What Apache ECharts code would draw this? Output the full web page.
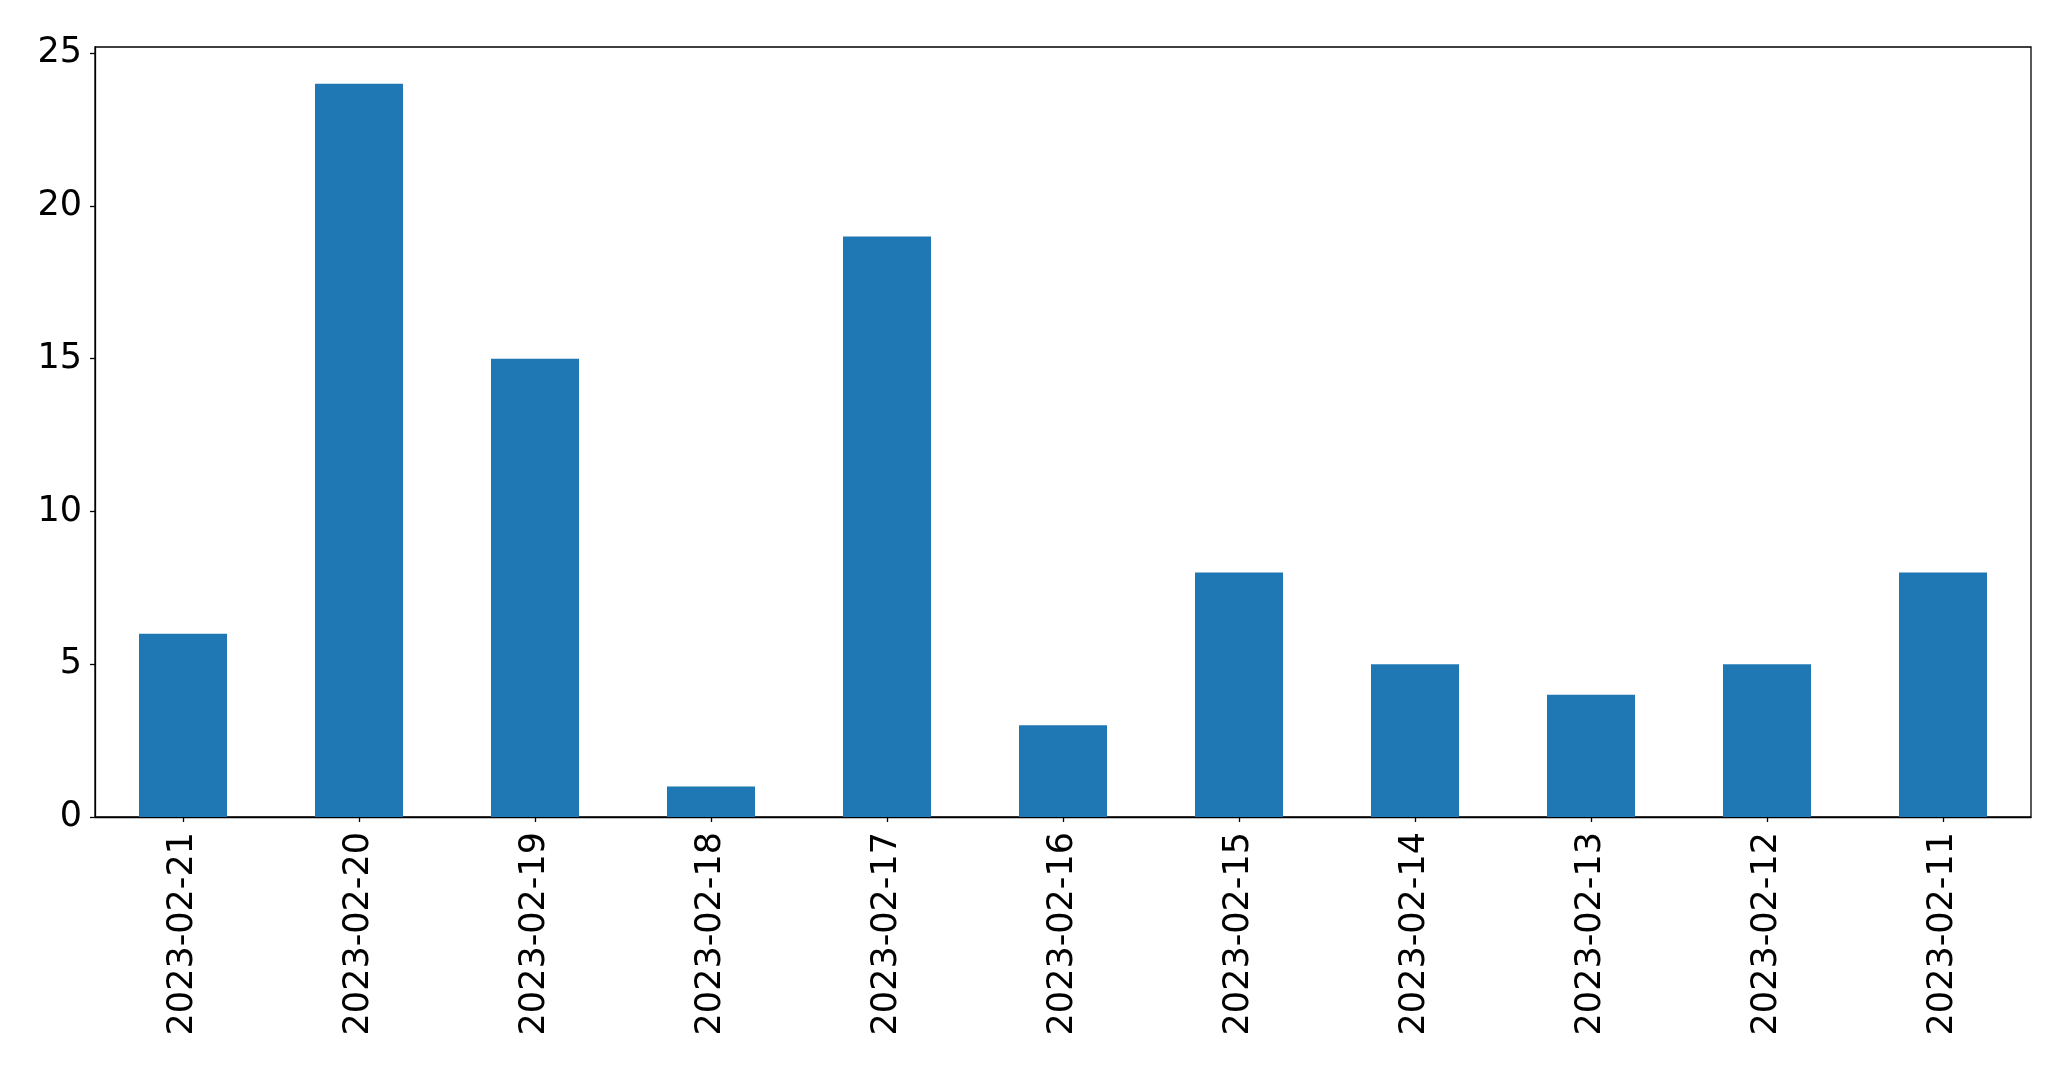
<!DOCTYPE html>
<html>
<head>
<meta charset="utf-8">
<script src="https://cdn.jsdelivr.net/npm/echarts@6/dist/echarts.min.js"></script>
<style>
html,body{margin:0;padding:0;background:#fff;}
#chart{width:2071px;height:1069px;}
</style>
</head>
<body>
<div id="chart"></div>
<script>
const categories = ['2023-02-21','2023-02-20','2023-02-19','2023-02-18','2023-02-17','2023-02-16','2023-02-15','2023-02-14','2023-02-13','2023-02-12','2023-02-11'];
const values = [6, 24, 15, 1, 19, 3, 8, 5, 4, 5, 8];
const yTicks = [0, 5, 10, 15, 20, 25];

const chart = echarts.init(document.getElementById('chart'));
const font = 'DejaVu Sans';
chart.setOption({
  animation: false,
  grid: {left: 95, right: 40, top: 47, bottom: 252, show: true, borderColor: '#000', borderWidth: 1.3, backgroundColor: 'transparent'},
  xAxis: {
    type: 'category',
    data: categories,
    axisLine: {show: true, lineStyle: {color: '#000', width: 1.3}},
    axisTick: {show: true, alignWithLabel: true, length: 5, lineStyle: {color: '#000', width: 1.3}},
    axisLabel: {rotate: 90, margin: 15, color: '#000', fontFamily: font, fontSize: 35, interval: 0},
    splitLine: {show: false}
  },
  yAxis: {
    type: 'value',
    min: 0,
    max: 25.2,
    interval: 5,
    axisLine: {show: true, lineStyle: {color: '#000', width: 1.3}},
    axisTick: {show: true, length: 5, lineStyle: {color: '#000', width: 1.3}},
    axisLabel: {
      margin: 13, color: '#000', fontFamily: font, fontSize: 35, showMaxLabel: false,
      formatter: v => yTicks.includes(v) ? String(v) : ''
    },
    splitLine: {show: false}
  },
  series: [{
    type: 'bar',
    data: values,
    barWidth: '50%',
    itemStyle: {color: '#1f77b4'}
  }]
});
</script>
</body>
</html>
